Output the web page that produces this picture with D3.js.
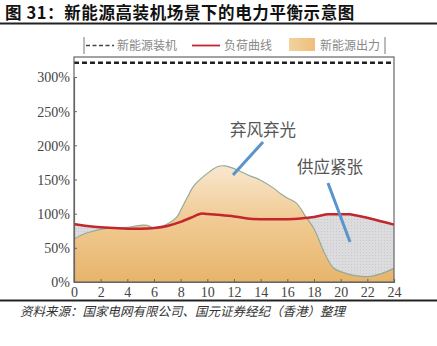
<!DOCTYPE html>
<html><head><meta charset="utf-8">
<script src="https://cdn.jsdelivr.net/npm/d3@7"></script>
<style>body{margin:0;background:#fff}svg{display:block}</style>
</head><body>
<script>
const titleText = "图 31：新能源高装机场景下的电力平衡示意图";
const sourceText = "资料来源：国家电网有限公司、国元证券经纪（香港）整理";
const legendLabels = ["新能源装机", "负荷曲线", "新能源出力"];
const xTicks = [0,2,4,6,8,10,12,14,16,18,20,22,24];
const yTicks = [0,50,100,150,200,250,300];
const capacity = 321;
// 负荷曲线 (hour, %)
const loadHours = [0,1,2,3,4,5,6,7,8,9,9.5,10,11,12,13,14,15,16,17,18,19,20,20.7,21,22,23,24];
const loadVals  = [85,82,80,79,78,78,79,82,88,96,100,99.5,98,96,93,92,92,92,93,95,99,99,99,98,94,89,84];
// 新能源出力 (hour, %)
const outHours = [0,0.5,1,2,3,4,5,5.5,6,7,7.7,8,8.5,9,10,10.8,11.3,12,13,14,15,15.5,16,16.7,17.4,18,18.8,19.5,20.5,22,23,24];
const outVals  = [63,68,72,77,79,80,83,83,79,85,95,105,124,141,159,169,170,166,157,149,137,129,123,115,95,78,42,20,12,8,12,20];
const annotations = ["弃风弃光", "供应紧张"];

const W = 437, H = 346;
const svg = d3.select("body").append("svg").attr("width", W).attr("height", H);
const x = d3.scaleLinear().domain([0,24]).range([74,394]);
const y = d3.scaleLinear().domain([0,300]).range([282,77]);

// title
svg.append("text").attr("x",5).attr("y",18.5).text(titleText)
  .attr("font-family","Noto Sans CJK SC").attr("font-weight","bold").attr("font-size",16.5)
  .attr("letter-spacing",0.6).attr("fill","#111");
svg.append("line").attr("x1",0).attr("x2",W).attr("y1",23.5).attr("y2",23.5).attr("stroke","#222").attr("stroke-width",2);
svg.append("line").attr("x1",0).attr("x2",W).attr("y1",300.5).attr("y2",300.5).attr("stroke","#222").attr("stroke-width",2);
svg.append("text").attr("x",20).attr("y",316).text(sourceText)
  .attr("font-family","Noto Sans CJK SC").attr("font-style","italic").attr("font-size",12.5).attr("fill","#333");

const defs = svg.append("defs");
const grad = defs.append("linearGradient").attr("id","og").attr("gradientUnits","userSpaceOnUse")
  .attr("x1",0).attr("x2",0).attr("y1",y(170)).attr("y2",y(0));
grad.append("stop").attr("offset","0%").attr("stop-color","#f8e7cf");
grad.append("stop").attr("offset","45%").attr("stop-color","#f1cb94");
grad.append("stop").attr("offset","100%").attr("stop-color","#e8b46b");
const pat = defs.append("pattern").attr("id","gp").attr("width",3).attr("height",3).attr("patternUnits","userSpaceOnUse");
pat.append("rect").attr("width",3).attr("height",3).attr("fill","#dcdcde");
pat.append("rect").attr("width",1).attr("height",1).attr("fill","#c9c9cc");

const loadData = loadHours.map((h,i)=>[h,loadVals[i]]);
const outData = outHours.map((h,i)=>[h,outVals[i]]);
const curve = d3.curveCatmullRom.alpha(0.5);

// grey area under load
svg.append("path").datum(loadData)
  .attr("d", d3.area().x(d=>x(d[0])).y0(y(0)).y1(d=>y(d[1])).curve(curve))
  .attr("fill","url(#gp)");
// orange area under output
svg.append("path").datum(outData)
  .attr("d", d3.area().x(d=>x(d[0])).y0(y(0)).y1(d=>y(d[1])).curve(curve))
  .attr("fill","url(#og)");
svg.append("path").datum(outData)
  .attr("d", d3.line().x(d=>x(d[0])).y(d=>y(d[1])).curve(curve))
  .attr("fill","none").attr("stroke","#93aa9a").attr("stroke-width",1.2);
// load line
svg.append("path").datum(loadData)
  .attr("d", d3.line().x(d=>x(d[0])).y(d=>y(d[1])).curve(curve))
  .attr("fill","none").attr("stroke","#c1272d").attr("stroke-width",2.5);
// capacity dashed
svg.append("line").attr("x1",x(0)).attr("x2",x(24)).attr("y1",y(capacity)).attr("y2",y(capacity))
  .attr("stroke","#222").attr("stroke-width",2.5).attr("stroke-dasharray","5,3");

// frame
svg.append("rect").attr("x",74).attr("y",57).attr("width",320).attr("height",225)
  .attr("fill","none").attr("stroke","#666").attr("stroke-width",1.2);

// axes
const yAxis = svg.append("g").attr("transform","translate(74,0)")
  .call(d3.axisLeft(y).tickValues(yTicks).tickFormat(d=>d+"%").tickSize(-3).tickPadding(4));
const xAxis = svg.append("g").attr("transform","translate(0,282)")
  .call(d3.axisBottom(x).tickValues(xTicks).tickSize(-3).tickPadding(3));
[yAxis,xAxis].forEach(g=>{
  g.select(".domain").attr("stroke","#666").attr("stroke-width",1.2);
  g.selectAll(".tick line").attr("stroke","#666");
  g.selectAll("text").attr("font-family","Liberation Serif").attr("font-size",14).attr("fill","#444");
});
yAxis.selectAll("text").attr("dy","0.35em");
xAxis.selectAll("text").attr("dy","0.85em");

// annotations
svg.append("text").attr("x",230).attr("y",136).text(annotations[0])
  .attr("font-family","Noto Sans CJK SC").attr("font-size",16.5).attr("fill","#555");
svg.append("line").attr("x1",263).attr("y1",142).attr("x2",233).attr("y2",175)
  .attr("stroke","#5a94cc").attr("stroke-width",3);
svg.append("text").attr("x",297).attr("y",173).text(annotations[1])
  .attr("font-family","Noto Sans CJK SC").attr("font-size",16.5).attr("fill","#555");
svg.append("line").attr("x1",328).attr("y1",183).attr("x2",350).attr("y2",242)
  .attr("stroke","#5a94cc").attr("stroke-width",3);

// legend
const lg = svg.append("g");
lg.append("line").attr("x1",84).attr("x2",84).attr("y1",37).attr("y2",54).attr("stroke","#777");
lg.append("line").attr("x1",385).attr("x2",385).attr("y1",37).attr("y2",54).attr("stroke","#777");
lg.append("line").attr("x1",86).attr("x2",114).attr("y1",45.5).attr("y2",45.5)
  .attr("stroke","#444").attr("stroke-width",1.5).attr("stroke-dasharray","4,2.5");
lg.append("line").attr("x1",192).attr("x2",220).attr("y1",45.5).attr("y2",45.5)
  .attr("stroke","#c1272d").attr("stroke-width",1.8);
const lgr = defs.append("linearGradient").attr("id","lg");
lgr.append("stop").attr("offset","0%").attr("stop-color","#f3d29f");
lgr.append("stop").attr("offset","100%").attr("stop-color","#eebf7c");
lg.append("rect").attr("x",289).attr("y",38).attr("width",26).attr("height",13).attr("fill","url(#lg)");
const lx = [117, 224, 320];
legendLabels.forEach((t,i)=>{
  lg.append("text").attr("x",lx[i]).attr("y",50).text(t)
    .attr("font-family","Noto Sans CJK SC").attr("font-size",12).attr("fill","#888");
});
</script>
</body></html>
